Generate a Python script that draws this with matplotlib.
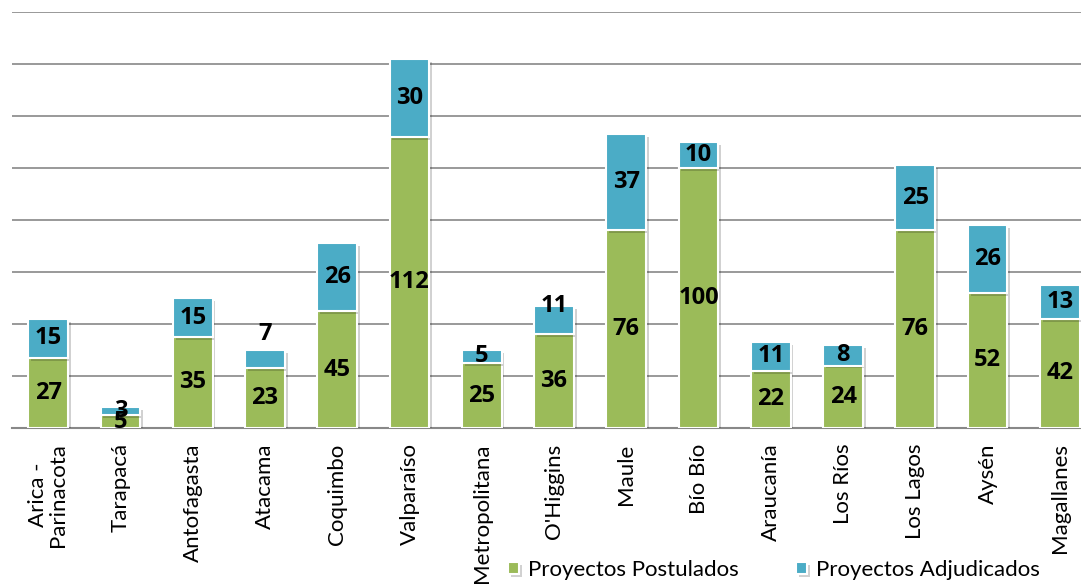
import numpy as np
import matplotlib.pyplot as plt
import matplotlib.patheffects as pe

plt.rcParams['font.family'] = ['Lato', 'DejaVu Sans']

regiones = ['Arica -\nParinacota', 'Tarapacá', 'Antofagasta', 'Atacama', 'Coquimbo',
            'Valparaíso', 'Metropolitana', "O'Higgins", 'Maule', 'Bío Bío',
            'Araucanía', 'Los Ríos', 'Los Lagos', 'Aysén', 'Magallanes']
postulados = [27, 5, 35, 23, 45, 112, 25, 36, 76, 100, 22, 24, 76, 52, 42]
adjudicados = [15, 3, 15, 7, 26, 30, 5, 11, 37, 10, 11, 8, 25, 26, 13]

verde = '#9BBB59'
azul = '#4BACC6'

fig = plt.figure(figsize=(10.81, 5.84), dpi=100)
# chart is cropped on the right, so axes run past the figure edge
ax = fig.add_axes([12 / 1081, 1 - 428 / 584, 1084 / 1081, 416 / 584])

x = np.arange(len(regiones))
sombra = [pe.SimplePatchShadow(offset=(2, -2), alpha=0.18, shadow_rgbFace='k'), pe.Normal()]

b1 = ax.bar(x, postulados, width=0.55, color=verde, edgecolor='white', linewidth=1.5,
            label='Proyectos Postulados', zorder=3)
b2 = ax.bar(x, adjudicados, width=0.55, bottom=postulados, color=azul, edgecolor='white',
            linewidth=1.5, label='Proyectos Adjudicados', zorder=3)
for b in list(b1) + list(b2):
    b.set_path_effects(sombra)

# a couple of labels were moved up by hand in the original (points)
nudge = {3: 18, 7: 10}
lab = dict(ha='center', va='center', fontsize=17, fontweight='bold',
           family=['Open Sans', 'DejaVu Sans'], zorder=5)
for i in x:
    ax.annotate(str(postulados[i]), (i, postulados[i] / 2), **lab)
    ax.annotate(str(adjudicados[i]), (i, postulados[i] + adjudicados[i] / 2),
                xytext=(0, nudge.get(i, 0)), textcoords='offset points', **lab)

ax.set_xlim(-0.5, len(regiones) - 0.5)
ax.set_ylim(0, 160)
ax.set_yticks(np.arange(0, 161, 20))
ax.yaxis.grid(True, color='#888888', linewidth=1.2, zorder=0)
ax.set_axisbelow(True)
ax.tick_params(axis='y', left=False, labelleft=False)
ax.tick_params(axis='x', length=0, pad=11)
ax.set_xticks(x)
ax.set_xticklabels(regiones, rotation=90, fontsize=16, ha='center', va='top',
                   multialignment='center', linespacing=1.0)
for s in ['top', 'right', 'left']:
    ax.spines[s].set_visible(False)
ax.spines['bottom'].set_color('#888888')
ax.spines['bottom'].set_linewidth(1.5)

fig.legend(handles=[b1, b2], loc='center', bbox_to_anchor=(0.716, 0.024), ncol=2,
           frameon=False, fontsize=16, handlelength=0.5, handleheight=0.5,
           handletextpad=0.4, columnspacing=2.6)

fig.savefig('out.png', dpi=100)
